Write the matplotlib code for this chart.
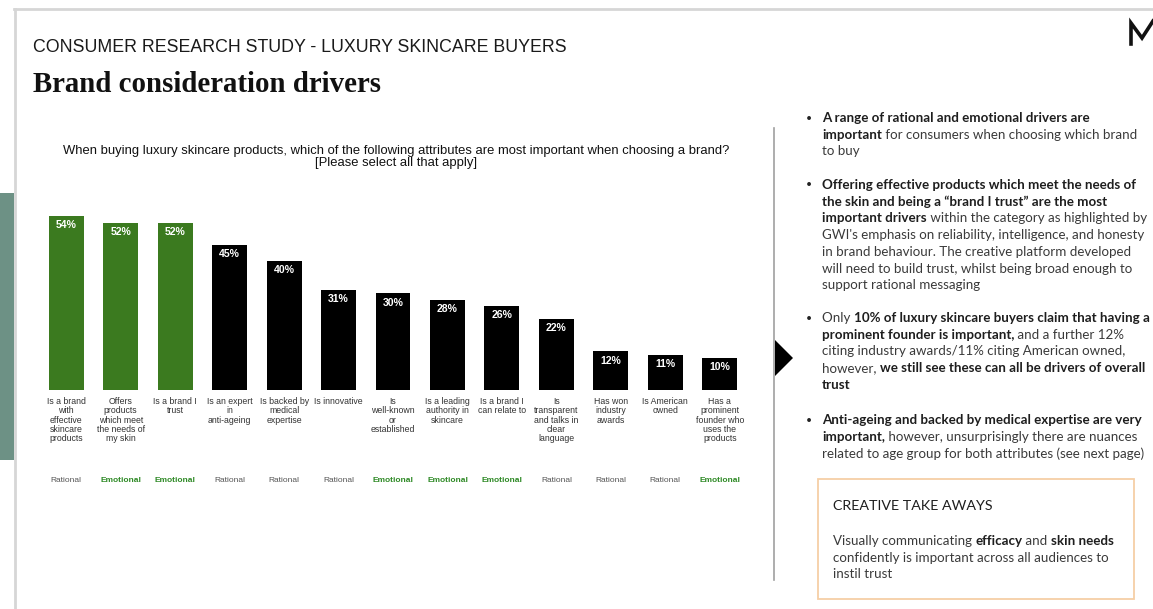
import matplotlib.pyplot as plt
import matplotlib.patches as mpatches
from matplotlib.lines import Line2D

W, H = 1153, 609

# chart data
categories = [
    "Is a brand\nwith\neffective\nskincare\nproducts",
    "Offers\nproducts\nwhich meet\nthe needs of\nmy skin",
    "Is a brand I\ntrust",
    "Is an expert\nin\nanti-ageing",
    "Is backed by\nmedical\nexpertise",
    "Is innovative",
    "Is\nwell-known\nor\nestablished",
    "Is a leading\nauthority in\nskincare",
    "Is a brand I\ncan relate to",
    "Is\ntransparent\nand talks in\nclear\nlanguage",
    "Has won\nindustry\nawards",
    "Is American\nowned",
    "Has a\nprominent\nfounder who\nuses the\nproducts",
]
values = [54, 52, 52, 45, 40, 31, 30, 28, 26, 22, 12, 11, 10]
driver_type = ["Rational", "Emotional", "Emotional", "Rational", "Rational", "Rational",
               "Emotional", "Emotional", "Emotional", "Rational", "Rational", "Rational",
               "Emotional"]
highlight = [True, True, True] + [False] * 10

GREEN = "#3b7a1f"
TXT = "#333333"


def px(x, y):
    return x / W, 1 - y / H


fig = plt.figure(figsize=(W / 100, H / 100), dpi=100)
fig.patch.set_facecolor("white")

# frame / decorations
fig.add_artist(Line2D([14 / W, 1], [1 - 9 / H] * 2, color="#d6d6d6", lw=2))
fig.add_artist(Line2D([15 / W] * 2, [1 - 9 / H, 0], color="#d6d6d6", lw=2))
fig.add_artist(mpatches.Rectangle(px(0, 460), 14 / W, 267 / H, color="#6d9185", lw=0))
fig.add_artist(Line2D([774 / W] * 2, [1 - 128 / H, 1 - 580 / H], color="#a0a0a0", lw=1.2))
fig.add_artist(mpatches.Polygon([px(775, 340), px(775, 376), px(793, 358)], closed=True,
                                color="black", lw=0))
mx = [1131, 1131, 1142, 1153]
my = [44, 23, 38, 21]
fig.add_artist(Line2D([a / W for a in mx], [1 - b / H for b in my], color="#111111", lw=2.6,
                      solid_joinstyle="miter"))

# titles
fig.text(*px(33, 48), "CONSUMER RESEARCH STUDY - LUXURY SKINCARE BUYERS", fontsize=12.8,
         family="Liberation Sans", color="#1a1a1a", va="center")
fig.text(*px(33, 84), "Brand consideration drivers", fontsize=20.8, family="Liberation Serif",
         weight="bold", color="#111111", va="center")
fig.text(*px(396, 157), "When buying luxury skincare products, which of the following attributes "
         "are most important when choosing a brand?\n[Please select all that apply]",
         fontsize=9.35, family="Liberation Sans", color="#111111", ha="center", va="center",
         linespacing=1.0)

# bar chart
ax = fig.add_axes([39 / W, (H - 390) / H, 708 / W, 193.2 / H])
colors = [GREEN if h else "black" for h in highlight]
x = list(range(len(values)))
ax.bar(x, values, width=0.64, color=colors)
ax.set_xlim(-0.5, len(values) - 0.5)
ax.set_ylim(0, 60)
ax.axis("off")
for i, v in enumerate(values):
    ax.annotate(f"{v}%", (i, v), xytext=(0, -3), textcoords="offset points", ha="center",
                va="top", color="white", fontsize=7.6, family="Liberation Sans", weight="bold")
    ax.annotate(categories[i], (i, 0), xytext=(0, -5), textcoords="offset points",
                ha="center", va="top", fontsize=6.3, family="Liberation Sans", color=TXT,
                linespacing=1.05)
    t = driver_type[i]
    ax.annotate(t, (i, 0), xytext=(0, -65.5), textcoords="offset points", ha="center",
                va="center", fontsize=6.0, family="Liberation Sans",
                color="#2f8a26" if t == "Emotional" else "#555555",
                weight="bold" if t == "Emotional" else "normal")

# right panel rich text
renderer = fig.canvas.get_renderer()
FS = 9.65
FAM = "Lato"


def text_w(s, bold, size):
    t = fig.text(0, 0, s, fontsize=size, family=FAM, weight="bold" if bold else "normal")
    w = t.get_window_extent(renderer).width
    t.remove()
    return w


def rich_line(x0, y0, segs, size=FS):
    xc = x0
    for s, bold in segs:
        fig.text(*px(xc, y0), s, fontsize=size, family=FAM,
                 weight="bold" if bold else "normal",
                 color="#1e1e1e" if bold else "#3a3a3a", va="center")
        xc += text_w(s + "|", bold, size) - text_w("|", bold, size)


B, R = True, False
bullets = [
    (118, [
        [("A range of rational and emotional drivers are", B)],
        [("important", B), (" for consumers when choosing which brand", R)],
        [("to buy", R)],
    ]),
    (185, [
        [("Offering effective products which meet the needs of", B)],
        [("the skin and being a \u201cbrand I trust\u201d are the most", B)],
        [("important drivers", B), (" within the category as highlighted by", R)],
        [("GWI's emphasis on reliability, intelligence, and honesty", R)],
        [("in brand behaviour. The creative platform developed", R)],
        [("will need to build trust, whilst being broad enough to", R)],
        [("support rational messaging", R)],
    ]),
    (318, [
        [("Only ", R), ("10% of luxury skincare buyers claim that having a", B)],
        [("prominent founder is important,", B), (" and a further 12%", R)],
        [("citing industry awards/11% citing American owned,", R)],
        [("however, ", R), ("we still see these can all be drivers of overall", B)],
        [("trust", B)],
    ]),
    (420, [
        [("Anti-ageing and backed by medical expertise are very", B)],
        [("important,", B), (" however, unsurprisingly there are nuances", R)],
        [("related to age group for both attributes (see next page)", R)],
    ]),
]
LH = 16.7
for y0, lines in bullets:
    fig.text(*px(806, y0), "\u2022", fontsize=7.5, family=FAM, color="#222222", va="center")
    for k, segs in enumerate(lines):
        rich_line(822, y0 + k * LH, segs)

# take-away box
fig.add_artist(mpatches.Rectangle(px(818, 599), 316 / W, 120 / H, fill=False,
                                  edgecolor="#f6cfa6", lw=1.3))
fig.text(*px(833, 506), "CREATIVE TAKE AWAYS", fontsize=10.3, family=FAM, color="#1e1e1e",
         va="center")
box_lines = [
    [("Visually communicating ", R), ("efficacy", B), (" and ", R), ("skin needs", B)],
    [("confidently is important across all audiences to", R)],
    [("instil trust", R)],
]
for k, segs in enumerate(box_lines):
    rich_line(833, 541 + k * LH, segs)

fig.savefig("out.png", dpi=100)
